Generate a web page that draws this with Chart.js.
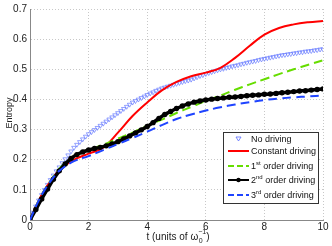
<!DOCTYPE html>
<html>
<head>
<meta charset="utf-8">
<script src="https://cdn.jsdelivr.net/npm/chart.js@4/dist/chart.umd.min.js"></script>
<style>
  html, body { margin: 0; padding: 0; background: #fff; }
  #wrap { width: 332px; height: 246px; }
</style>
</head>
<body>
<div id="wrap"><canvas id="c" width="332" height="246"></canvas></div>
<script>
// no driving, sampled every 0.1
const tNoDrive = [];
for (let i = 0; i <= 100; i++) tNoDrive.push(i / 10);
const noDriving = [
  0, 0.025, 0.045, 0.065, 0.083, 0.1, 0.117, 0.133, 0.148, 0.162,
  0.175, 0.189, 0.202, 0.215, 0.228, 0.24, 0.25, 0.259, 0.268, 0.277,
  0.285, 0.292, 0.299, 0.306, 0.313, 0.32, 0.327, 0.334, 0.341, 0.348,
  0.355, 0.362, 0.369, 0.376, 0.383, 0.39, 0.395, 0.4, 0.405, 0.41,
  0.415, 0.42, 0.424, 0.429, 0.433, 0.437, 0.44, 0.443, 0.446, 0.449,
  0.452, 0.455, 0.458, 0.461, 0.463, 0.466, 0.47, 0.474, 0.478, 0.481,
  0.485, 0.488, 0.491, 0.494, 0.497, 0.5, 0.502, 0.505, 0.507, 0.51,
  0.512, 0.514, 0.517, 0.519, 0.522, 0.524, 0.526, 0.528, 0.531, 0.533,
  0.535, 0.537, 0.539, 0.541, 0.543, 0.545, 0.547, 0.548, 0.55, 0.551,
  0.553, 0.554, 0.556, 0.557, 0.559, 0.56, 0.561, 0.563, 0.564, 0.566,
  0.567
];

// 2nd order, sampled every 0.2
const tSecond = [];
for (let i = 0; i <= 50; i++) tSecond.push(i / 5);
const secondOrder = [
  0, 0.035, 0.07, 0.103, 0.135, 0.163, 0.186, 0.204, 0.217, 0.226,
  0.232, 0.237, 0.241, 0.246, 0.252, 0.26, 0.269, 0.279, 0.289, 0.299,
  0.31, 0.323, 0.337, 0.35, 0.36, 0.37, 0.378, 0.385, 0.391, 0.395,
  0.398, 0.401, 0.403, 0.405, 0.407, 0.408, 0.41, 0.412, 0.414, 0.415,
  0.417, 0.418, 0.42, 0.422, 0.424, 0.426, 0.428, 0.429, 0.431, 0.433,
  0.435
];

// constant, 1st and 3rd order
const tLines = [0, 0.25, 0.5, 0.75, 1, 1.5, 2, 2.5, 3, 3.5, 4, 4.5, 5, 5.5, 6, 6.5, 7, 7.5, 8, 8.5, 9, 9.5, 10];
const constant = [0, 0.055, 0.1, 0.135, 0.165, 0.2, 0.22, 0.24, 0.29, 0.345, 0.39, 0.43, 0.458, 0.477, 0.489, 0.505, 0.538, 0.578, 0.615, 0.637, 0.649, 0.656, 0.66];
const firstOrder = [0, 0.055, 0.1, 0.137, 0.17, 0.21, 0.232, 0.25, 0.27, 0.29, 0.313, 0.333, 0.355, 0.375, 0.395, 0.413, 0.432, 0.45, 0.467, 0.484, 0.5, 0.515, 0.53];
const thirdOrder = [0, 0.055, 0.1, 0.135, 0.163, 0.195, 0.212, 0.232, 0.252, 0.272, 0.293, 0.315, 0.335, 0.35, 0.363, 0.374, 0.383, 0.391, 0.398, 0.403, 0.407, 0.41, 0.413];

const xTickStep = 2;
const yTickStep = 0.1;

const pts = (xs, ys) => xs.map((x, i) => ({ x: x, y: ys[i] }));

const legendItems = [
  { kind: 'tri', color: '#5a6dff', text: ['No driving'] },
  { kind: 'line', color: '#ff0000', text: ['Constant driving'] },
  { kind: 'dash', color: '#66dd00', text: ['1', 'st', ' order driving'] },
  { kind: 'dot', color: '#000000', text: ['2', 'nd', ' order driving'] },
  { kind: 'dash', color: '#1f44ff', text: ['3', 'rd', ' order driving'] }
];

const extras = {
  id: 'extras',
  afterDraw(chart) {
    const ctx = chart.ctx;
    ctx.save();
    ctx.fillStyle = '#222';
    // y title
    ctx.font = '9px "Liberation Sans", Arial, sans-serif';
    ctx.translate(10, 113);
    ctx.rotate(-Math.PI / 2);
    ctx.textAlign = 'center';
    ctx.textBaseline = 'middle';
    ctx.fillText('Entropy', 0, 0);
    ctx.restore();

    // x title with stacked sub/superscript
    ctx.save();
    ctx.fillStyle = '#222';
    ctx.textBaseline = 'alphabetic';
    const big = '10px "Liberation Sans", Arial, sans-serif';
    const small = '7px "Liberation Sans", Arial, sans-serif';
    ctx.font = big;
    const a = 't (units of \u03c9';
    const wa = ctx.measureText(a).width;
    ctx.font = small;
    const ws = Math.max(ctx.measureText('0').width, ctx.measureText('\u22121').width);
    ctx.font = big;
    const wb = ctx.measureText(')').width;
    let x = 178 - (wa + ws + wb) / 2;
    const base = 240;
    ctx.fillText(a, x, base);
    x += wa;
    ctx.font = small;
    ctx.fillText('0', x + 0.5, base + 3);
    ctx.fillText('\u22121', x, base - 6);
    x += ws;
    ctx.font = big;
    ctx.fillText(')', x, base);
    ctx.restore();

    // legend box
    const bx = 223, by = 132, bw = 95, bh = 71;
    ctx.save();
    ctx.fillStyle = '#fff';
    ctx.fillRect(bx, by, bw, bh);
    ctx.strokeStyle = '#333';
    ctx.lineWidth = 1;
    ctx.strokeRect(bx + 0.5, by + 0.5, bw, bh);
    const rows = [139, 151, 166, 180, 195];
    legendItems.forEach((it, i) => {
      const y = rows[i];
      ctx.strokeStyle = it.color;
      ctx.fillStyle = it.color;
      ctx.lineWidth = 2;
      ctx.setLineDash(it.kind === 'dash' ? [6, 3] : []);
      if (it.kind !== 'tri') {
        ctx.beginPath();
        ctx.moveTo(228, y);
        ctx.lineTo(249, y);
        ctx.stroke();
      }
      ctx.setLineDash([]);
      if (it.kind === 'tri') {
        ctx.lineWidth = 0.8;
        ctx.beginPath();
        ctx.moveTo(236, y - 2);
        ctx.lineTo(241, y - 2);
        ctx.lineTo(238.5, y + 2);
        ctx.closePath();
        ctx.stroke();
      }
      if (it.kind === 'dot') {
        ctx.beginPath();
        ctx.arc(238.5, y, 2.2, 0, Math.PI * 2);
        ctx.fill();
      }
      ctx.fillStyle = '#111';
      ctx.textBaseline = 'middle';
      let tx = 251;
      ctx.font = '9px "Liberation Sans", Arial, sans-serif';
      ctx.fillText(it.text[0], tx, y + 0.5);
      tx += ctx.measureText(it.text[0]).width;
      if (it.text.length > 1) {
        ctx.font = '6px "Liberation Sans", Arial, sans-serif';
        ctx.fillText(it.text[1], tx, y - 3);
        tx += ctx.measureText(it.text[1]).width;
        ctx.font = '9px "Liberation Sans", Arial, sans-serif';
        ctx.fillText(it.text[2], tx, y + 0.5);
      }
    });
    ctx.restore();
  }
};

const tickFont = { family: '"Liberation Sans", Arial, sans-serif', size: 10 };

new Chart(document.getElementById('c').getContext('2d'), {
  type: 'line',
  data: {
    datasets: [
      {
        label: 'No driving',
        data: pts(tNoDrive, noDriving),
        showLine: false,
        pointStyle: 'triangle',
        rotation: 180,
        pointRadius: 2.6,
        pointBorderWidth: 0.7,
        pointBorderColor: '#6478ff',
        pointBackgroundColor: 'rgba(255,255,255,0)',
        order: 5
      },
      {
        label: 'Constant driving',
        data: pts(tLines, constant),
        borderColor: '#ff0000',
        borderWidth: 2,
        pointRadius: 0,
        tension: 0.4,
        order: 4
      },
      {
        label: '1st order driving',
        data: pts(tLines, firstOrder),
        borderColor: '#66dd00',
        borderWidth: 2,
        borderDash: [9, 5],
        pointRadius: 0,
        tension: 0.4,
        order: 3
      },
      {
        label: '2nd order driving',
        data: pts(tSecond, secondOrder),
        borderColor: '#000000',
        borderWidth: 3.5,
        pointRadius: 2.7,
        pointBorderWidth: 0,
        pointBackgroundColor: '#000000',
        tension: 0.3,
        order: 2
      },
      {
        label: '3rd order driving',
        data: pts(tLines, thirdOrder),
        borderColor: '#1f44ff',
        borderWidth: 2,
        borderDash: [9, 5],
        pointRadius: 0,
        tension: 0.4,
        order: 1
      }
    ]
  },
  options: {
    responsive: false,
    animation: false,
    devicePixelRatio: 1,
    layout: { padding: { top: 7, right: 9, left: 0, bottom: 0 } },
    plugins: { legend: { display: false }, tooltip: { enabled: false } },
    scales: {
      x: {
        type: 'linear',
        min: 0,
        max: 10,
        afterFit: axis => { axis.height = 26; },
        ticks: { stepSize: xTickStep, font: tickFont, color: '#222', padding: 1, maxRotation: 0, autoSkip: false },
        grid: { color: '#c8c8c8', tickLength: 0 },
        border: { display: true, color: '#888', dash: [1, 2] }
      },
      y: {
        type: 'linear',
        min: 0,
        max: 0.7,
        afterFit: axis => { axis.width = 30; },
        ticks: { stepSize: yTickStep, font: tickFont, color: '#222', padding: 3, autoSkip: false,
                 callback: v => String(Math.round(v * 10) / 10) },
        grid: { color: '#c8c8c8', tickLength: 0 },
        border: { display: true, color: '#888', dash: [1, 2] }
      }
    }
  },
  plugins: [extras]
});
</script>
</body>
</html>
